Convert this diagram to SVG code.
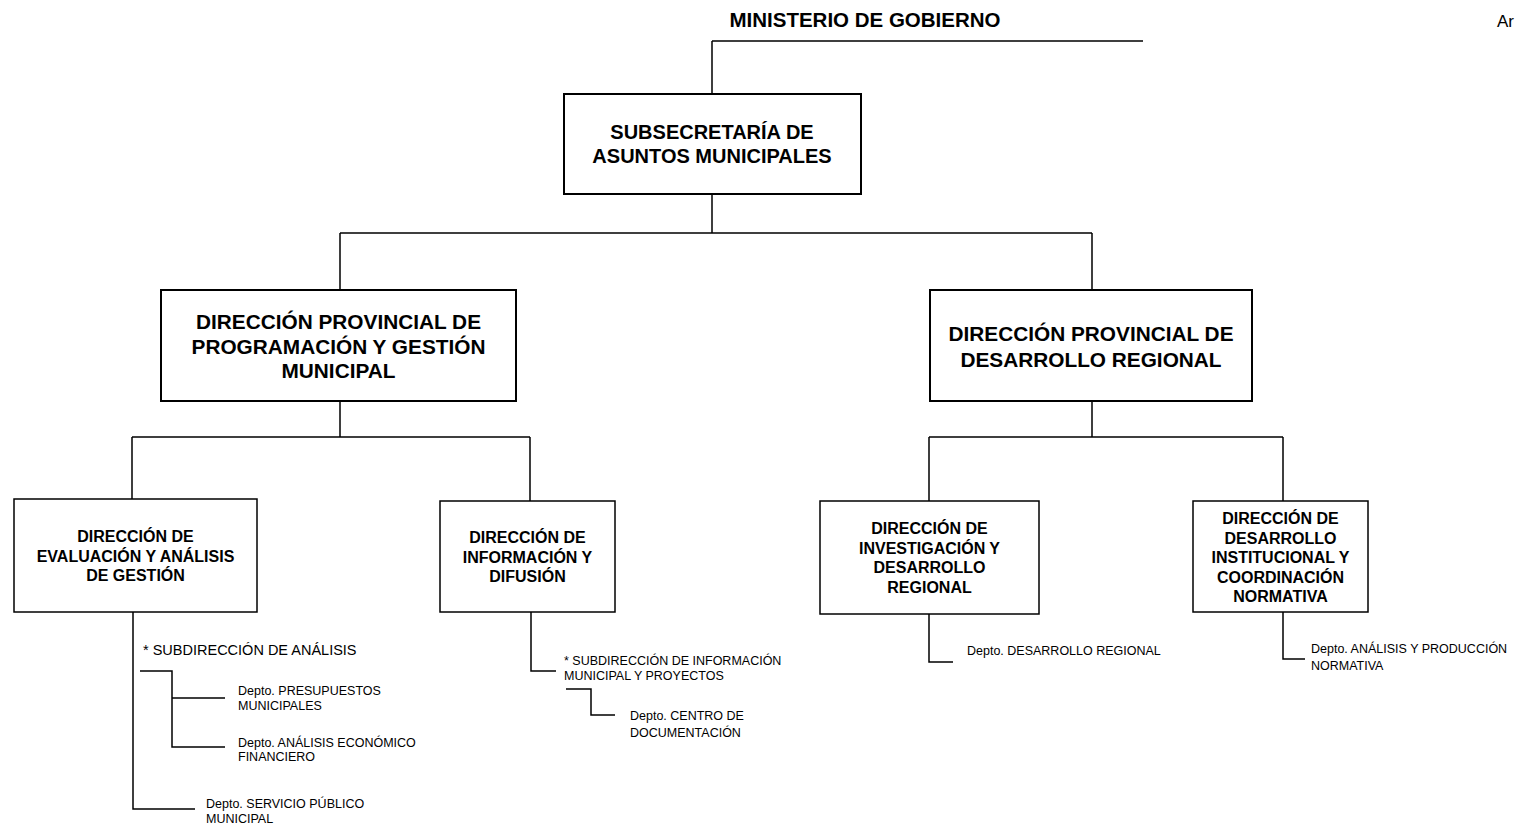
<svg xmlns="http://www.w3.org/2000/svg" width="1516" height="825" viewBox="0 0 1516 825">
<style>
text{font-family:"Liberation Sans",Arial,sans-serif;fill:#000}
.t{font-weight:bold;text-anchor:middle}
.big{font-size:20.8px}
.mid{font-size:16px}
.s{font-size:12.5px}
.box{fill:#fff;stroke:#000;stroke-width:2}
.sbox{fill:#fff;stroke:#000;stroke-width:1.5}
.ln{fill:none;stroke:#000;stroke-width:1.5}
</style>
<rect width="1516" height="825" fill="#fff"/>
<g id="connectors">
<path class="ln" d="M712,41H1143M712,41V94"/>
<path class="ln" d="M712,194V233M340,233H1092M340,233V290M1092,233V290"/>
<path class="ln" d="M340,401V437M132,437H530M132,437V499M530,437V501"/>
<path class="ln" d="M1092,401V437M929,437H1283M929,437V501M1283,437V501"/>
<path class="ln" d="M133,612V809H195"/>
<path class="ln" d="M140,671H172V747H225M172,698H225"/>
<path class="ln" d="M531,612V671H556"/>
<path class="ln" d="M566,689H591V715H615"/>
<path class="ln" d="M929,614V662H953"/>
<path class="ln" d="M1283,612V659H1305"/>
</g>
<g id="ministerio">
<text class="t" x="865" y="27" style="font-size:20.5px">MINISTERIO DE GOBIERNO</text>
</g>
<g id="anexo">
<text x="1497" y="27" style="font-size:17px">Ar</text>
</g>
<g id="subsecretaria">
<rect class="box" x="564" y="94" width="297" height="100"/>
<text class="t" x="712" y="139" style="font-size:20px">SUBSECRETARÍA DE</text>
<text class="t" x="712" y="163" style="font-size:20px">ASUNTOS MUNICIPALES</text>
</g>
<g id="dp-programacion">
<rect class="box" x="161" y="290" width="355" height="111"/>
<text class="t big" x="338.5" y="329">DIRECCIÓN PROVINCIAL DE</text>
<text class="t big" x="338.5" y="353.5">PROGRAMACIÓN Y GESTIÓN</text>
<text class="t big" x="338.5" y="378">MUNICIPAL</text>
</g>
<g id="dp-desarrollo">
<rect class="box" x="930" y="290" width="322" height="111"/>
<text class="t big" x="1091" y="341">DIRECCIÓN PROVINCIAL DE</text>
<text class="t big" x="1091" y="366.5">DESARROLLO REGIONAL</text>
</g>
<g id="d-evaluacion">
<rect class="sbox" x="14" y="499" width="243" height="113"/>
<text class="t mid" x="135.5" y="542">DIRECCIÓN DE</text>
<text class="t mid" x="135.5" y="561.5">EVALUACIÓN Y ANÁLISIS</text>
<text class="t mid" x="135.5" y="581">DE GESTIÓN</text>
</g>
<g id="d-informacion">
<rect class="sbox" x="440" y="501" width="175" height="111"/>
<text class="t mid" x="527.5" y="543">DIRECCIÓN DE</text>
<text class="t mid" x="527.5" y="562.5">INFORMACIÓN Y</text>
<text class="t mid" x="527.5" y="582">DIFUSIÓN</text>
</g>
<g id="d-investigacion">
<rect class="sbox" x="820" y="501" width="219" height="113"/>
<text class="t mid" x="929.5" y="534">DIRECCIÓN DE</text>
<text class="t mid" x="929.5" y="553.5">INVESTIGACIÓN Y</text>
<text class="t mid" x="929.5" y="573">DESARROLLO</text>
<text class="t mid" x="929.5" y="592.5">REGIONAL</text>
</g>
<g id="d-institucional">
<rect class="sbox" x="1193" y="501" width="175" height="111"/>
<text class="t mid" x="1280.5" y="524">DIRECCIÓN DE</text>
<text class="t mid" x="1280.5" y="543.5">DESARROLLO</text>
<text class="t mid" x="1280.5" y="563">INSTITUCIONAL Y</text>
<text class="t mid" x="1280.5" y="582.5">COORDINACIÓN</text>
<text class="t mid" x="1280.5" y="602">NORMATIVA</text>
</g>
<g id="sub-analisis">
<text x="143" y="655" style="font-size:14.5px">* SUBDIRECCIÓN DE ANÁLISIS</text>
</g>
<g id="depto-presupuestos">
<text class="s" x="238" y="695">Depto. PRESUPUESTOS</text>
<text class="s" x="238" y="710">MUNICIPALES</text>
</g>
<g id="depto-economico">
<text class="s" x="238" y="747">Depto. ANÁLISIS ECONÓMICO</text>
<text class="s" x="238" y="761">FINANCIERO</text>
</g>
<g id="depto-servicio">
<text class="s" x="206" y="808">Depto. SERVICIO PÚBLICO</text>
<text class="s" x="206" y="823">MUNICIPAL</text>
</g>
<g id="sub-informacion">
<text class="s" x="564" y="665">* SUBDIRECCIÓN DE INFORMACIÓN</text>
<text class="s" x="564" y="680">MUNICIPAL Y PROYECTOS</text>
</g>
<g id="depto-documentacion">
<text class="s" x="630" y="720">Depto. CENTRO DE</text>
<text class="s" x="630" y="737">DOCUMENTACIÓN</text>
</g>
<g id="depto-desarrollo-regional">
<text class="s" x="967" y="655">Depto. DESARROLLO REGIONAL</text>
</g>
<g id="depto-normativa">
<text class="s" x="1311" y="653">Depto. ANÁLISIS Y PRODUCCIÓN</text>
<text class="s" x="1311" y="670">NORMATIVA</text>
</g>
</svg>
